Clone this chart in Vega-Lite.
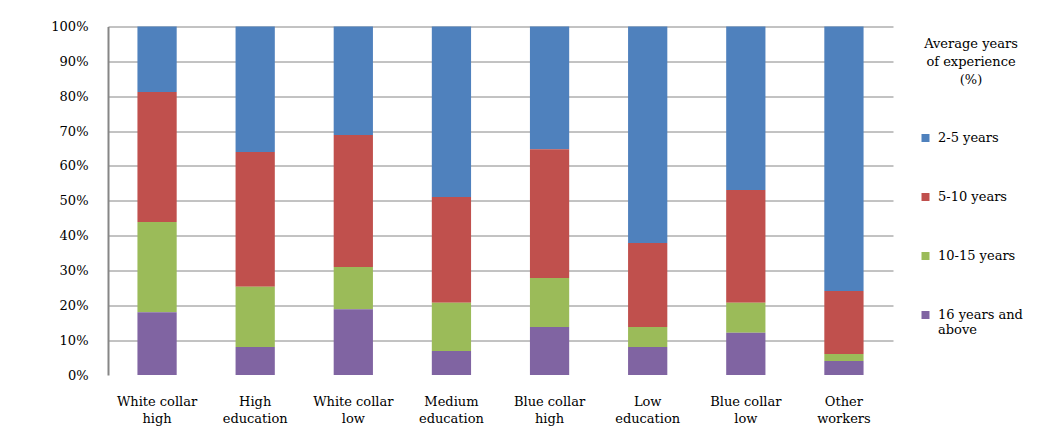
{
  "$schema": "https://vega.github.io/schema/vega-lite/v6.json",
  "autosize": {"type": "none"},
  "width": 785,
  "height": 348.5,
  "padding": {"left": 108, "top": 26.5, "right": 145, "bottom": 61},
  "background": "white",
  "config": {
    "view": {"stroke": null},
    "font": "DejaVu Serif"
  },
  "data": {
    "values": [
      {"group": "White collar high", "series": "2-5 years", "min_years": 2, "value": 18.8},
      {"group": "White collar high", "series": "5-10 years", "min_years": 5, "value": 37.3},
      {"group": "White collar high", "series": "10-15 years", "min_years": 10, "value": 25.9},
      {"group": "White collar high", "series": "16 years and above", "min_years": 16, "value": 18.0},
      {"group": "High education", "series": "2-5 years", "min_years": 2, "value": 36.0},
      {"group": "High education", "series": "5-10 years", "min_years": 5, "value": 38.7},
      {"group": "High education", "series": "10-15 years", "min_years": 10, "value": 17.3},
      {"group": "High education", "series": "16 years and above", "min_years": 16, "value": 8.0},
      {"group": "White collar low", "series": "2-5 years", "min_years": 2, "value": 31.1},
      {"group": "White collar low", "series": "5-10 years", "min_years": 5, "value": 37.9},
      {"group": "White collar low", "series": "10-15 years", "min_years": 10, "value": 12.1},
      {"group": "White collar low", "series": "16 years and above", "min_years": 16, "value": 18.9},
      {"group": "Medium education", "series": "2-5 years", "min_years": 2, "value": 48.9},
      {"group": "Medium education", "series": "5-10 years", "min_years": 5, "value": 30.4},
      {"group": "Medium education", "series": "10-15 years", "min_years": 10, "value": 13.8},
      {"group": "Medium education", "series": "16 years and above", "min_years": 16, "value": 6.9},
      {"group": "Blue collar high", "series": "2-5 years", "min_years": 2, "value": 35.2},
      {"group": "Blue collar high", "series": "5-10 years", "min_years": 5, "value": 37.0},
      {"group": "Blue collar high", "series": "10-15 years", "min_years": 10, "value": 14.0},
      {"group": "Blue collar high", "series": "16 years and above", "min_years": 16, "value": 13.8},
      {"group": "Low education", "series": "2-5 years", "min_years": 2, "value": 62.1},
      {"group": "Low education", "series": "5-10 years", "min_years": 5, "value": 24.1},
      {"group": "Low education", "series": "10-15 years", "min_years": 10, "value": 5.8},
      {"group": "Low education", "series": "16 years and above", "min_years": 16, "value": 8.0},
      {"group": "Blue collar low", "series": "2-5 years", "min_years": 2, "value": 46.9},
      {"group": "Blue collar low", "series": "5-10 years", "min_years": 5, "value": 32.4},
      {"group": "Blue collar low", "series": "10-15 years", "min_years": 10, "value": 8.6},
      {"group": "Blue collar low", "series": "16 years and above", "min_years": 16, "value": 12.1},
      {"group": "Other workers", "series": "2-5 years", "min_years": 2, "value": 75.9},
      {"group": "Other workers", "series": "5-10 years", "min_years": 5, "value": 18.1},
      {"group": "Other workers", "series": "10-15 years", "min_years": 10, "value": 2.0},
      {"group": "Other workers", "series": "16 years and above", "min_years": 16, "value": 4.0}
    ]
  },
  "mark": {"type": "bar"},
  "encoding": {
    "x": {
      "field": "group",
      "type": "nominal",
      "sort": null,
      "scale": {"paddingInner": 0.6, "paddingOuter": 0.3},
      "axis": {
        "title": null,
        "domain": false,
        "ticks": false,
        "labelAngle": 0,
        "labelFont": "DejaVu Serif",
        "labelFontSize": 13,
        "labelColor": "#000000",
        "labelBaseline": "top",
        "labelPadding": 20,
        "labelLineHeight": 17,
        "labelLimit": 0,
        "labelExpr": "[substring(datum.label, 0, lastindexof(datum.label, ' ')), substring(datum.label, lastindexof(datum.label, ' ') + 1)]"
      }
    },
    "y": {
      "field": "value",
      "type": "quantitative",
      "stack": "normalize",
      "axis": {
        "title": null,
        "format": ".0%",
        "values": [0, 0.1, 0.2, 0.3, 0.4, 0.5, 0.6, 0.7, 0.8, 0.9, 1],
        "domain": true,
        "domainColor": "#868686",
        "domainWidth": 2,
        "ticks": false,
        "grid": true,
        "gridColor": "#868686",
        "gridWidth": 1,
        "gridOpacity": {"condition": {"test": "datum.value === 0", "value": 0}, "value": 1},
        "labelFont": "DejaVu Serif",
        "labelFontSize": 13,
        "labelColor": "#000000",
        "labelPadding": 20
      }
    },
    "order": {"field": "min_years", "type": "quantitative", "sort": "descending"},
    "color": {
      "field": "series",
      "type": "nominal",
      "scale": {
        "domain": ["2-5 years", "5-10 years", "10-15 years", "16 years and above"],
        "range": ["#4F81BD", "#C0504D", "#9BBB59", "#8064A2"]
      },
      "legend": {
        "orient": "none",
        "legendX": 811,
        "legendY": 11,
        "title": ["Average years", "of experience", "(%)"],
        "titleFont": "DejaVu Serif",
        "titleFontSize": 13,
        "titleFontWeight": "normal",
        "titleColor": "#000000",
        "titleAlign": "center",
        "titleAnchor": "middle",
        "titleLineHeight": 18,
        "titlePadding": 45,
        "symbolType": "square",
        "symbolSize": 64,
        "symbolStrokeWidth": 0,
        "labelFont": "DejaVu Serif",
        "labelFontSize": 13,
        "labelColor": "#000000",
        "labelOffset": 6,
        "labelLimit": 0,
        "rowPadding": 45,
        "labelExpr": "datum.label === '16 years and above' ? ['16 years and', 'above'] : datum.label"
      }
    }
  }
}
